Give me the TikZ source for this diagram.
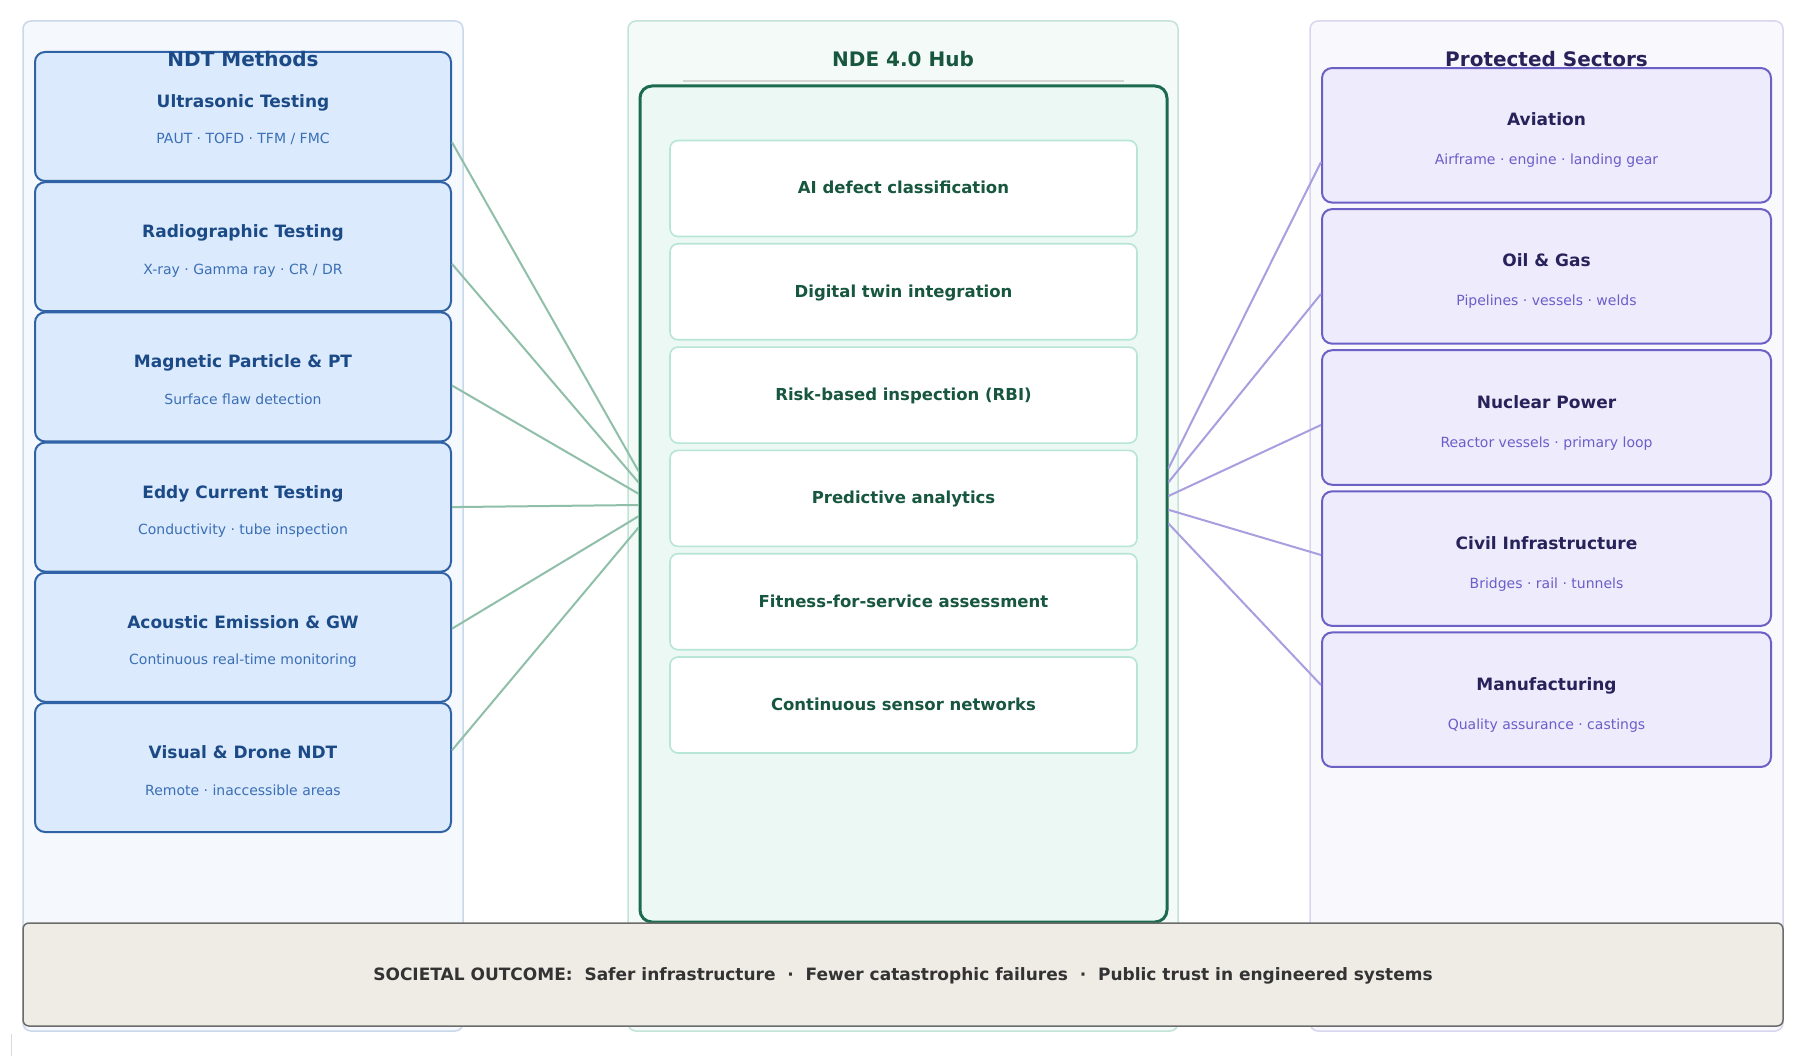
\documentclass[tikz,border=0pt]{standalone}
\usepackage{fontspec}
\setmainfont{DejaVu Sans}
\definecolor{lpanf}{HTML}{F5F8FD}
\definecolor{lpanb}{HTML}{C9D8EA}
\definecolor{lboxf}{HTML}{DBEAFD}
\definecolor{lboxb}{HTML}{2F63A5}
\definecolor{ltitc}{HTML}{1B4A86}
\definecolor{lsubc}{HTML}{3B6FB5}
\definecolor{cpanf}{HTML}{F3FAF7}
\definecolor{cpanb}{HTML}{C3E3D6}
\definecolor{hubf}{HTML}{EBF8F3}
\definecolor{hubb}{HTML}{1D6B4F}
\definecolor{itemb}{HTML}{B8E6D4}
\definecolor{itemc}{HTML}{17563F}
\definecolor{sepc}{HTML}{D5D5D5}
\definecolor{rpanf}{HTML}{F8F8FD}
\definecolor{rpanb}{HTML}{D9D5F0}
\definecolor{rboxf}{HTML}{EEEBFC}
\definecolor{rboxb}{HTML}{6B60C3}
\definecolor{rtitc}{HTML}{28225A}
\definecolor{rsubc}{HTML}{6B5EC9}
\definecolor{lconc}{HTML}{8FBFA9}
\definecolor{rconc}{HTML}{A89EE0}
\definecolor{banf}{HTML}{EEECE5}
\definecolor{banb}{HTML}{6B6B6B}
\definecolor{bantc}{HTML}{333333}
\newcommand\mkleft[4]{%
  \node[lbox] (#1) at (243,#2) {};
  \node[ltitle] (#1t) at ([yshift=9pt]#1.center) {#3};
  \node[lsub] (#1s) at ([yshift=-27.5pt]#1.center) {#4};
}
\newcommand\mkright[4]{%
  \node[rbox] (#1) at (1546.5,#2) {};
  \node[rtitle] (#1t) at ([yshift=9.5pt]#1.center) {#3};
  \node[rsub] (#1s) at ([yshift=-29.6pt]#1.center) {#4};
}
\newcommand\mkitem[3]{%
  \node[itembox] (#1) at (903.5,#2) {};
  \node[itemtext] (#1t) at ([yshift=-5.5pt]#1.center) {#3};
}
\begin{document}
\begin{tikzpicture}[x=1pt,y=-1pt,
  panel/.style={line width=1.5pt, rounded corners=8pt, inner sep=0pt},
  lbox/.style={draw=lboxb, fill=lboxf, line width=2pt, rounded corners=10pt,
    minimum width=416pt, minimum height=129pt, inner sep=0pt},
  rbox/.style={draw=rboxb, fill=rboxf, line width=2pt, rounded corners=10pt,
    minimum width=449pt, minimum height=134.5pt, inner sep=0pt},
  itembox/.style={draw=itemb, fill=white, line width=1.6pt, rounded corners=8pt,
    minimum width=467pt, minimum height=96pt, inner sep=0pt},
  ltitle/.style={anchor=base, inner sep=0pt, text=ltitc, font=\fontsize{17}{20}\selectfont\bfseries},
  lsub/.style={anchor=base, inner sep=0pt, text=lsubc, font=\fontsize{14}{17}\selectfont},
  rtitle/.style={anchor=base, inner sep=0pt, text=rtitc, font=\fontsize{17}{20}\selectfont\bfseries},
  rsub/.style={anchor=base, inner sep=0pt, text=rsubc, font=\fontsize{14}{17}\selectfont},
  itemtext/.style={anchor=base, inner sep=0pt, text=itemc, font=\fontsize{16.5}{20}\selectfont\bfseries},
  ptitle/.style={anchor=base, inner sep=0pt, font=\fontsize{20}{24}\selectfont\bfseries},
  lconn/.style={draw=lconc, line width=2pt},
  rconn/.style={draw=rconc, line width=2pt}]
\useasboundingbox (0,0) rectangle (1807,1056);
\fill[white] (0,0) rectangle (1807,1056);
% panels
\node[panel, draw=lpanb, fill=lpanf, minimum width=440pt, minimum height=1010pt] (lpanel) at (243,526) {};
\node[panel, draw=cpanb, fill=cpanf, minimum width=550pt, minimum height=1010pt] (cpanel) at (903,526) {};
\node[panel, draw=rpanb, fill=rpanf, minimum width=473pt, minimum height=1010pt] (rpanel) at (1546.5,526) {};
\draw[sepc, line width=1.5pt] (683,81) -- (1124,81);
% hub
\node[draw=hubb, fill=hubf, line width=3pt, rounded corners=12pt, minimum width=527pt, minimum height=836pt, inner sep=0pt] (hub) at (903.5,504) {};
% boxes
\mkleft{l1}{116.5}{Ultrasonic Testing}{PAUT · TOFD · TFM / FMC}
\mkleft{l2}{246.7}{Radiographic Testing}{X-ray · Gamma ray · CR / DR}
\mkleft{l3}{376.9}{Magnetic Particle \& PT}{Surface flaw detection}
\mkleft{l4}{507.1}{Eddy Current Testing}{Conductivity · tube inspection}
\mkleft{l5}{637.3}{Acoustic Emission \& GW}{Continuous real-time monitoring}
\mkleft{l6}{767.5}{Visual \& Drone NDT}{Remote · inaccessible areas}
\mkright{r1}{135.3}{Aviation}{Airframe · engine · landing gear}
\mkright{r2}{276.4}{Oil \& Gas}{Pipelines · vessels · welds}
\mkright{r3}{417.5}{Nuclear Power}{Reactor vessels · primary loop}
\mkright{r4}{558.6}{Civil Infrastructure}{Bridges · rail · tunnels}
\mkright{r5}{699.7}{Manufacturing}{Quality assurance · castings}
\mkitem{c1}{188.5}{AI defect classification}
\mkitem{c2}{291.8}{Digital twin integration}
\mkitem{c3}{395.1}{Risk-based inspection (RBI)}
\mkitem{c4}{498.4}{Predictive analytics}
\mkitem{c5}{601.7}{Fitness-for-service assessment}
\mkitem{c6}{705.0}{Continuous sensor networks}
% connectors
\draw[lconn] ([yshift=-25.8pt]l1.east) -- ([yshift=32.9pt]hub.west);
\draw[lconn] ([yshift=-17.2pt]l2.east) -- ([yshift=21.6pt]hub.west);
\draw[lconn] ([yshift=-8.6pt]l3.east) -- ([yshift=10.3pt]hub.west);
\draw[lconn] (l4.east) -- ([yshift=-1pt]hub.west);
\draw[lconn] ([yshift=8.6pt]l5.east) -- ([yshift=-12.3pt]hub.west);
\draw[lconn] ([yshift=17.2pt]l6.east) -- ([yshift=-23.6pt]hub.west);
\draw[rconn] ([yshift=35.6pt]hub.east) -- ([yshift=-26.7pt]r1.west);
\draw[rconn] ([yshift=21.8pt]hub.east) -- ([yshift=-17.6pt]r2.west);
\draw[rconn] ([yshift=8pt]hub.east) -- ([yshift=-7.5pt]r3.west);
\draw[rconn] ([yshift=-5.8pt]hub.east) -- ([yshift=3.6pt]r4.west);
\draw[rconn] ([yshift=-19.6pt]hub.east) -- ([yshift=14.7pt]r5.west);
% panel titles
\node[ptitle, text=ltitc] (ltitle) at (243,66.3) {NDT Methods};
\node[ptitle, text=itemc] (ctitle) at (903,66.3) {NDE 4.0 Hub};
\node[ptitle, text=rtitc] (rtitle) at (1546.5,66.3) {Protected Sectors};
% banner
\node[draw=banb, fill=banf, line width=1.5pt, rounded corners=6pt, minimum width=1760pt, minimum height=103pt, inner sep=0pt] (banner) at (903,974.5) {};
\node[anchor=base, inner sep=0pt, text=bantc, font=\fontsize{17}{20}\selectfont\bfseries] (bant) at (903,980)
  {SOCIETAL OUTCOME:\ \ Safer infrastructure\ \ ·\ \ Fewer catastrophic failures\ \ ·\ \ Public trust in engineered systems};
\draw[black!15, line width=1pt] (11.5,1034) -- (11.5,1056);
\end{tikzpicture}
\end{document}
